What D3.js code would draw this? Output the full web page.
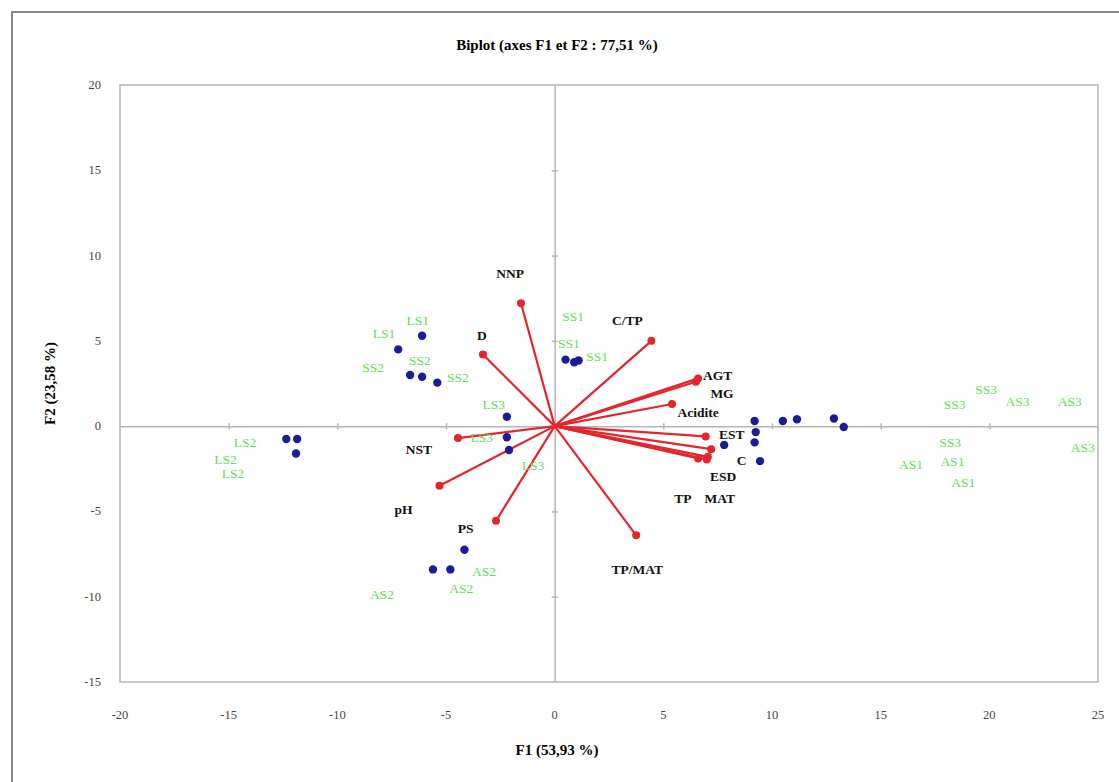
<!DOCTYPE html>
<html>
<head>
<meta charset="utf-8">
<script src="https://cdn.jsdelivr.net/npm/d3@7"></script>
<style>
  body { margin: 0; background: #fff; }
  svg text { font-family: "Liberation Serif", "DejaVu Serif", serif; }
</style>
</head>
<body>
<div class="chart"></div>
<script>
// Biplot F1/F2 - variables (red vectors) and observations (blue dots)

var xTicks = [-20, -15, -10, -5, 0, 5, 10, 15, 20, 25];
var yTicks = [-15, -10, -5, 0, 5, 10, 15, 20];

var varNames = ["NNP", "D", "C/TP", "AGT", "MG", "Acidite", "EST", "C", "ESD", "MAT", "TP", "TP/MAT", "PS", "pH", "NST"];
var varF1 = [-1.55, -3.3, 4.45, 6.6, 6.5, 5.4, 6.95, 7.2, 7.05, 7.0, 6.6, 3.75, -2.7, -5.3, -4.45];
var varF2 = [7.2, 4.2, 5.0, 2.8, 2.6, 1.3, -0.6, -1.35, -1.8, -1.95, -1.9, -6.4, -5.55, -3.5, -0.7];
// label positions for the variable names
var varLabF1 = [-2.05, -3.35, 3.35, 7.5, 7.7, 6.6, 8.15, 8.6, 7.75, 7.6, 5.9, 3.8, -4.1, -6.95, -6.25];
var varLabF2 = [8.95, 5.35, 6.2, 3.0, 1.95, 0.85, -0.45, -2.0, -2.95, -4.2, -4.2, -8.4, -6.0, -4.85, -1.35];

var obsF1 = [-7.2, -6.1, -6.65, -6.1, -5.4, -12.35, -11.85, -11.9, -2.2, -2.2, -2.1, 0.5, 0.9, 1.1,
             -4.15, -5.6, -4.8, 7.8, 9.2, 9.25, 9.2, 9.45, 10.5, 11.15, 12.85, 13.3];
var obsF2 = [4.5, 5.3, 3.0, 2.9, 2.55, -0.75, -0.75, -1.6, 0.55, -0.65, -1.4, 3.9, 3.75, 3.85,
             -7.25, -8.4, -8.4, -1.1, 0.3, -0.35, -0.95, -2.05, 0.3, 0.4, 0.45, -0.05];

var obsNames = ["LS1", "LS1", "SS2", "SS2", "SS2", "LS2", "LS2", "LS2", "LS3", "LS3", "LS3", "SS1", "SS1", "SS1",
                "AS2", "AS2", "AS2", "SS3", "SS3", "SS3", "AS3", "AS3", "AS3", "AS1", "AS1", "AS1"];
var obsLabF1 = [-6.3, -7.85, -6.2, -8.35, -4.45, -14.25, -15.15, -14.8, -2.8, -3.35, -1.0, 0.85, 0.65, 1.95,
                -3.25, -7.95, -4.3, 19.85, 18.4, 18.2, 21.3, 23.7, 24.3, 16.4, 18.3, 18.8];
var obsLabF2 = [6.25, 5.45, 3.85, 3.45, 2.9, -0.95, -1.9, -2.75, 1.3, -0.65, -2.3, 6.45, 4.9, 4.1,
                -8.5, -9.85, -9.5, 2.15, 1.3, -0.95, 1.5, 1.5, -1.2, -2.2, -2.05, -3.3];

var W = 1119, H = 782;
var margin = {left: 120, right: 21, top: 85, bottom: 100};

var svg = d3.select(".chart").append("svg")
  .attr("width", W)
  .attr("height", H);

// outer frame
svg.append("path")
  .attr("d", "M12," + H + " L12,12 L" + W + ",12")
  .attr("fill", "none")
  .attr("stroke", "#8a8a8a")
  .attr("stroke-width", 2);

var x = d3.scaleLinear().domain([-20, 25]).range([margin.left, W - margin.right]);
var y = d3.scaleLinear().domain([-15, 20]).range([H - margin.bottom, margin.top]);

// plot border
svg.append("rect")
  .attr("x", x(-20)).attr("y", y(20))
  .attr("width", x(25) - x(-20)).attr("height", y(-15) - y(20))
  .attr("fill", "none").attr("stroke", "#b5b5b5").attr("stroke-width", 1.5);

// zero axes with small ticks
svg.append("g")
  .attr("transform", "translate(0," + y(0) + ")")
  .call(d3.axisBottom(x).tickValues(xTicks.slice(1, -1)).tickSize(6).tickSizeOuter(0).tickFormat(""))
  .call(function(g) { g.selectAll("line, path").attr("stroke", "#b5b5b5").attr("stroke-width", 1.5); })
  .call(function(g) { g.selectAll(".tick line").attr("y1", -3).attr("y2", 3); });
svg.append("g")
  .attr("transform", "translate(" + x(0) + ",0)")
  .call(d3.axisLeft(y).tickValues(yTicks.slice(1, -1)).tickSize(6).tickSizeOuter(0).tickFormat(""))
  .call(function(g) { g.selectAll("line, path").attr("stroke", "#b5b5b5").attr("stroke-width", 1.5); })
  .call(function(g) { g.selectAll(".tick line").attr("x1", -3).attr("x2", 3); });

// tick labels
svg.selectAll(".xlab")
  .data(xTicks)
  .enter().append("text")
  .attr("x", function(d) { return x(d); })
  .attr("y", y(-15) + 37)
  .attr("text-anchor", "middle")
  .style("font-size", "12.5px")
  .attr("fill", "#444")
  .text(function(d) { return d; });
svg.selectAll(".ylab")
  .data(yTicks)
  .enter().append("text")
  .attr("x", x(-20) - 19)
  .attr("y", function(d) { return y(d) + 4; })
  .attr("text-anchor", "end")
  .style("font-size", "12.5px")
  .attr("fill", "#444")
  .text(function(d) { return d; });

// titles
svg.append("text")
  .attr("x", 557).attr("y", 50)
  .attr("text-anchor", "middle")
  .style("font-size", "15px").style("font-weight", "bold")
  .text("Biplot (axes F1 et F2 : 77,51 %)");
svg.append("text")
  .attr("x", 557).attr("y", 755)
  .attr("text-anchor", "middle")
  .style("font-size", "15px").style("font-weight", "bold")
  .text("F1 (53,93 %)");
svg.append("text")
  .attr("transform", "translate(55," + y(2.5) + ") rotate(-90)")
  .attr("text-anchor", "middle")
  .style("font-size", "15px").style("font-weight", "bold")
  .text("F2 (23,58 %)");

// variable vectors
var vars = varNames.map(function(n, i) {
  return {name: n, f1: varF1[i], f2: varF2[i], lx: varLabF1[i], ly: varLabF2[i]};
});
svg.selectAll(".vec")
  .data(vars)
  .enter().append("line")
  .attr("x1", x(0)).attr("y1", y(0))
  .attr("x2", function(d) { return x(d.f1); })
  .attr("y2", function(d) { return y(d.f2); })
  .attr("stroke", "#e3262e")
  .attr("stroke-width", 2.2);
svg.selectAll(".vecdot")
  .data(vars)
  .enter().append("circle")
  .attr("cx", function(d) { return x(d.f1); })
  .attr("cy", function(d) { return y(d.f2); })
  .attr("r", 4)
  .attr("fill", "#e3262e");

// observations
var obs = obsF1.map(function(v, i) { return {f1: v, f2: obsF2[i]}; });
svg.selectAll(".obs")
  .data(obs)
  .enter().append("circle")
  .attr("cx", function(d) { return x(d.f1); })
  .attr("cy", function(d) { return y(d.f2); })
  .attr("r", 4.2)
  .attr("fill", "#1c1c96");

// observation labels
svg.selectAll(".obslab")
  .data(obsNames)
  .enter().append("text")
  .attr("x", function(d, i) { return x(obsLabF1[i]); })
  .attr("y", function(d, i) { return y(obsLabF2[i]) + 5; })
  .attr("text-anchor", "middle")
  .style("font-size", "13.5px")
  .attr("fill", "#5fdc55")
  .text(function(d) { return d; });

// variable labels
svg.selectAll(".varlab")
  .data(vars)
  .enter().append("text")
  .attr("x", function(d) { return x(d.lx); })
  .attr("y", function(d) { return y(d.ly) + 5; })
  .attr("text-anchor", "middle")
  .style("font-size", "13.5px").style("font-weight", "bold")
  .attr("fill", "#111")
  .text(function(d) { return d.name; });
</script>
</body>
</html>
